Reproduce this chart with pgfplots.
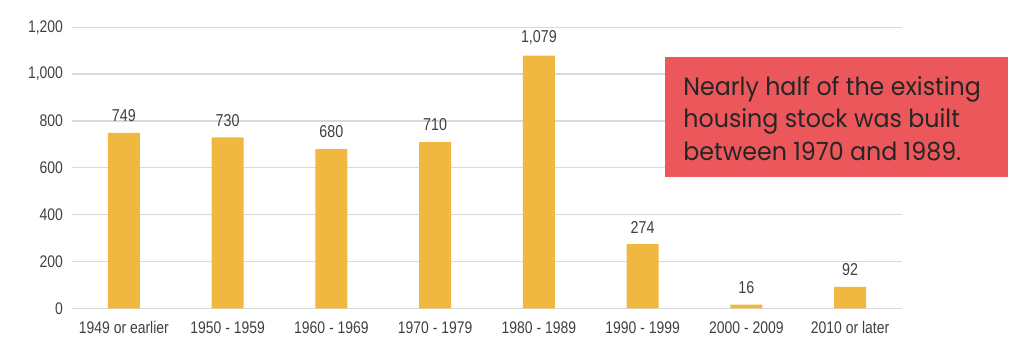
\documentclass[border=0pt]{standalone}
\usepackage{fontspec}
\setmainfont{Liberation Sans}[FakeStretch=0.83]
\newfontfamily\boxfont{Poppins}[FakeStretch=0.95]
\usepackage{pgfplots}
\pgfplotsset{compat=1.18}
\definecolor{barc}{RGB}{240,184,64}
\definecolor{boxred}{RGB}{235,87,90}
\definecolor{gridc}{RGB}{217,217,217}
\definecolor{txt}{RGB}{64,64,64}
\begin{document}
\begin{tikzpicture}
\path[use as bounding box] (-36pt,-25pt) rectangle (476pt,154.15pt);
\begin{axis}[
  at={(0,0)}, anchor=south west,
  scale only axis, width=415pt, height=140.5pt,
  xmin=-0.5, xmax=7.5, ymin=0, ymax=1200,
  axis line style={draw=none},
  major tick length=0pt,
  ytick={0,200,...,1200},
  ymajorgrids, grid style={gridc, line width=0.7pt},
  xtick=data,
  xticklabels={1949 or earlier,1950 - 1959,1960 - 1969,1970 - 1979,1980 - 1989,1990 - 1999,2000 - 2009,2010 or later},
  /pgf/number format/assume math mode=true,
  /pgf/number format/1000 sep={,},
  tick label style={font=\fontsize{8.4pt}{10pt}\selectfont, text=txt},
  yticklabel style={xshift=-1pt},
  xticklabel style={yshift=-3pt},
  ybar, bar width=16pt,
  nodes near coords,
  every node near coord/.append style={font=\fontsize{8.6pt}{10pt}\selectfont, text=txt, yshift=2pt},
]
\addplot[fill=barc, draw=none] coordinates {(0,749) (1,730) (2,680) (3,710) (4,1079) (5,274) (6,16) (7,92)};
\end{axis}
\fill[boxred] (296.5pt,65.5pt) rectangle (468pt,125.5pt);
\node[anchor=base west, align=left, inner sep=0pt, font=\boxfont\fontsize{12.5pt}{16.25pt}\selectfont, text=black!85] at (305.5pt,74pt) {Nearly half of the existing\\housing stock was built\\between 1970 and 1989.};
\end{tikzpicture}
\end{document}
